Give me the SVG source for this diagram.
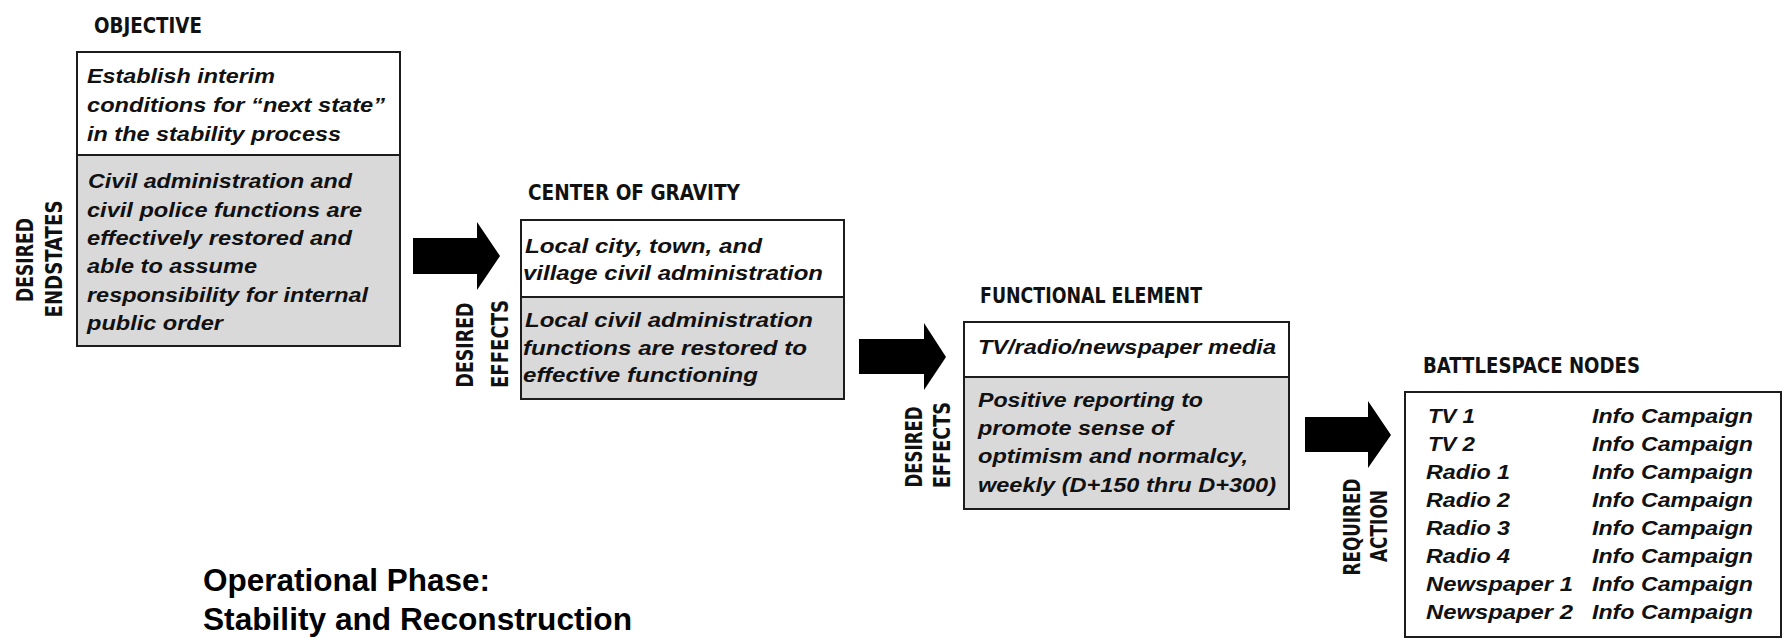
<svg xmlns="http://www.w3.org/2000/svg" width="1788" height="643" viewBox="0 0 1788 643">
<style>
.bg{fill:#ffffff}
.box{stroke:#1c1c1c;stroke-width:2}
.top{fill:#ffffff}
.bot{fill:#d9d9d9}
.div{stroke:#1c1c1c;stroke-width:2}
.hdr{font-family:"Liberation Sans Narrow","DejaVu Sans Condensed","Liberation Sans",sans-serif;font-weight:bold;font-size:21px;fill:#111}
.vl{font-family:"Liberation Sans Narrow","DejaVu Sans Condensed","Liberation Sans",sans-serif;font-weight:bold;font-size:23px;fill:#111;text-anchor:middle}
.bt{font-family:"Liberation Sans",Arial,sans-serif;font-weight:bold;font-style:italic;font-size:20px;fill:#111}
.title{font-family:"Liberation Sans",Arial,sans-serif;font-weight:bold;font-size:32px;fill:#000}
.arrow{fill:#000}
</style>
<rect class="bg" x="0" y="0" width="1788" height="643"/>

<g id="connectors">
  <polygon class="arrow" points="413,238 477,238 477,222 500,256 477,290 477,274 413,274"/>
  <polygon class="arrow" points="859,339 924,339 924,323 946,357 924,390 924,374 859,374"/>
  <polygon class="arrow" points="1305,417 1368,417 1368,401 1391,435 1368,468 1368,452 1305,452"/>
  <g id="label-endstates">
    <text class="vl" transform="translate(33,260) rotate(-90)" textLength="84" lengthAdjust="spacingAndGlyphs">DESIRED</text>
    <text class="vl" transform="translate(62,259) rotate(-90)" textLength="117" lengthAdjust="spacingAndGlyphs">ENDSTATES</text>
  </g>
  <g id="label-effects-1">
    <text class="vl" transform="translate(473,345) rotate(-90)" textLength="85" lengthAdjust="spacingAndGlyphs">DESIRED</text>
    <text class="vl" transform="translate(508,344) rotate(-90)" textLength="88" lengthAdjust="spacingAndGlyphs">EFFECTS</text>
  </g>
  <g id="label-effects-2">
    <text class="vl" transform="translate(922,447) rotate(-90)" textLength="81" lengthAdjust="spacingAndGlyphs">DESIRED</text>
    <text class="vl" transform="translate(950,445) rotate(-90)" textLength="86" lengthAdjust="spacingAndGlyphs">EFFECTS</text>
  </g>
  <g id="label-action">
    <text class="vl" transform="translate(1360,527) rotate(-90)" textLength="97" lengthAdjust="spacingAndGlyphs">REQUIRED</text>
    <text class="vl" transform="translate(1387,526) rotate(-90)" textLength="72" lengthAdjust="spacingAndGlyphs">ACTION</text>
  </g>
</g>

<g id="objective">
  <text class="hdr" x="94" y="33" textLength="108" lengthAdjust="spacingAndGlyphs">OBJECTIVE</text>
  <rect class="top box" x="77" y="52" width="323" height="103"/>
  <rect class="bot box" x="77" y="155" width="323" height="191"/>
  <text class="bt" x="87" y="83" textLength="188" lengthAdjust="spacingAndGlyphs">Establish interim</text>
  <text class="bt" x="87" y="112" textLength="298" lengthAdjust="spacingAndGlyphs">conditions for “next state”</text>
  <text class="bt" x="87" y="141" textLength="254" lengthAdjust="spacingAndGlyphs">in the stability process</text>
  <text class="bt" x="88" y="188" textLength="264" lengthAdjust="spacingAndGlyphs">Civil administration and</text>
  <text class="bt" x="87" y="217" textLength="275" lengthAdjust="spacingAndGlyphs">civil police functions are</text>
  <text class="bt" x="87" y="245" textLength="265" lengthAdjust="spacingAndGlyphs">effectively restored and</text>
  <text class="bt" x="87" y="273" textLength="170" lengthAdjust="spacingAndGlyphs">able to assume</text>
  <text class="bt" x="87" y="302" textLength="281" lengthAdjust="spacingAndGlyphs">responsibility for internal</text>
  <text class="bt" x="87" y="330" textLength="136" lengthAdjust="spacingAndGlyphs">public order</text>
</g>

<g id="center-of-gravity">
  <text class="hdr" x="528" y="200" textLength="212" lengthAdjust="spacingAndGlyphs">CENTER OF GRAVITY</text>
  <rect class="top box" x="521" y="220" width="323" height="77"/>
  <rect class="bot box" x="521" y="297" width="323" height="102"/>
  <text class="bt" x="525" y="253" textLength="237" lengthAdjust="spacingAndGlyphs">Local city, town, and</text>
  <text class="bt" x="523" y="280" textLength="300" lengthAdjust="spacingAndGlyphs">village civil administration</text>
  <text class="bt" x="525" y="327" textLength="288" lengthAdjust="spacingAndGlyphs">Local civil administration</text>
  <text class="bt" x="523" y="355" textLength="284" lengthAdjust="spacingAndGlyphs">functions are restored to</text>
  <text class="bt" x="523" y="382" textLength="235" lengthAdjust="spacingAndGlyphs">effective functioning</text>
</g>

<g id="functional-element">
  <text class="hdr" x="980" y="303" textLength="222" lengthAdjust="spacingAndGlyphs">FUNCTIONAL ELEMENT</text>
  <rect class="top box" x="964" y="322" width="325" height="55"/>
  <rect class="bot box" x="964" y="377" width="325" height="132"/>
  <text class="bt" x="978" y="354" textLength="298" lengthAdjust="spacingAndGlyphs">TV/radio/newspaper media</text>
  <text class="bt" x="978" y="407" textLength="225" lengthAdjust="spacingAndGlyphs">Positive reporting to</text>
  <text class="bt" x="978" y="435" textLength="195" lengthAdjust="spacingAndGlyphs">promote sense of</text>
  <text class="bt" x="978" y="463" textLength="270" lengthAdjust="spacingAndGlyphs">optimism and normalcy,</text>
  <text class="bt" x="978" y="492" textLength="298" lengthAdjust="spacingAndGlyphs">weekly (D+150 thru D+300)</text>
</g>

<g id="battlespace-nodes">
  <text class="hdr" x="1423" y="373" textLength="217" lengthAdjust="spacingAndGlyphs">BATTLESPACE NODES</text>
  <rect class="top box" x="1405" y="392" width="376" height="245"/>
  <text class="bt" x="1428" y="423" textLength="47" lengthAdjust="spacingAndGlyphs">TV 1</text>
  <text class="bt" x="1428" y="451" textLength="47" lengthAdjust="spacingAndGlyphs">TV 2</text>
  <text class="bt" x="1426" y="479" textLength="84" lengthAdjust="spacingAndGlyphs">Radio 1</text>
  <text class="bt" x="1426" y="507" textLength="84" lengthAdjust="spacingAndGlyphs">Radio 2</text>
  <text class="bt" x="1426" y="535" textLength="84" lengthAdjust="spacingAndGlyphs">Radio 3</text>
  <text class="bt" x="1426" y="563" textLength="84" lengthAdjust="spacingAndGlyphs">Radio 4</text>
  <text class="bt" x="1426" y="591" textLength="147" lengthAdjust="spacingAndGlyphs">Newspaper 1</text>
  <text class="bt" x="1426" y="619" textLength="147" lengthAdjust="spacingAndGlyphs">Newspaper 2</text>
  <text class="bt" x="1592" y="423" textLength="161" lengthAdjust="spacingAndGlyphs">Info Campaign</text>
  <text class="bt" x="1592" y="451" textLength="161" lengthAdjust="spacingAndGlyphs">Info Campaign</text>
  <text class="bt" x="1592" y="479" textLength="161" lengthAdjust="spacingAndGlyphs">Info Campaign</text>
  <text class="bt" x="1592" y="507" textLength="161" lengthAdjust="spacingAndGlyphs">Info Campaign</text>
  <text class="bt" x="1592" y="535" textLength="161" lengthAdjust="spacingAndGlyphs">Info Campaign</text>
  <text class="bt" x="1592" y="563" textLength="161" lengthAdjust="spacingAndGlyphs">Info Campaign</text>
  <text class="bt" x="1592" y="591" textLength="161" lengthAdjust="spacingAndGlyphs">Info Campaign</text>
  <text class="bt" x="1592" y="619" textLength="161" lengthAdjust="spacingAndGlyphs">Info Campaign</text>
</g>

<g id="title">
  <text class="title" x="203" y="591" textLength="287" lengthAdjust="spacingAndGlyphs">Operational Phase:</text>
  <text class="title" x="203" y="630" textLength="429" lengthAdjust="spacingAndGlyphs">Stability and Reconstruction</text>
</g>
</svg>
